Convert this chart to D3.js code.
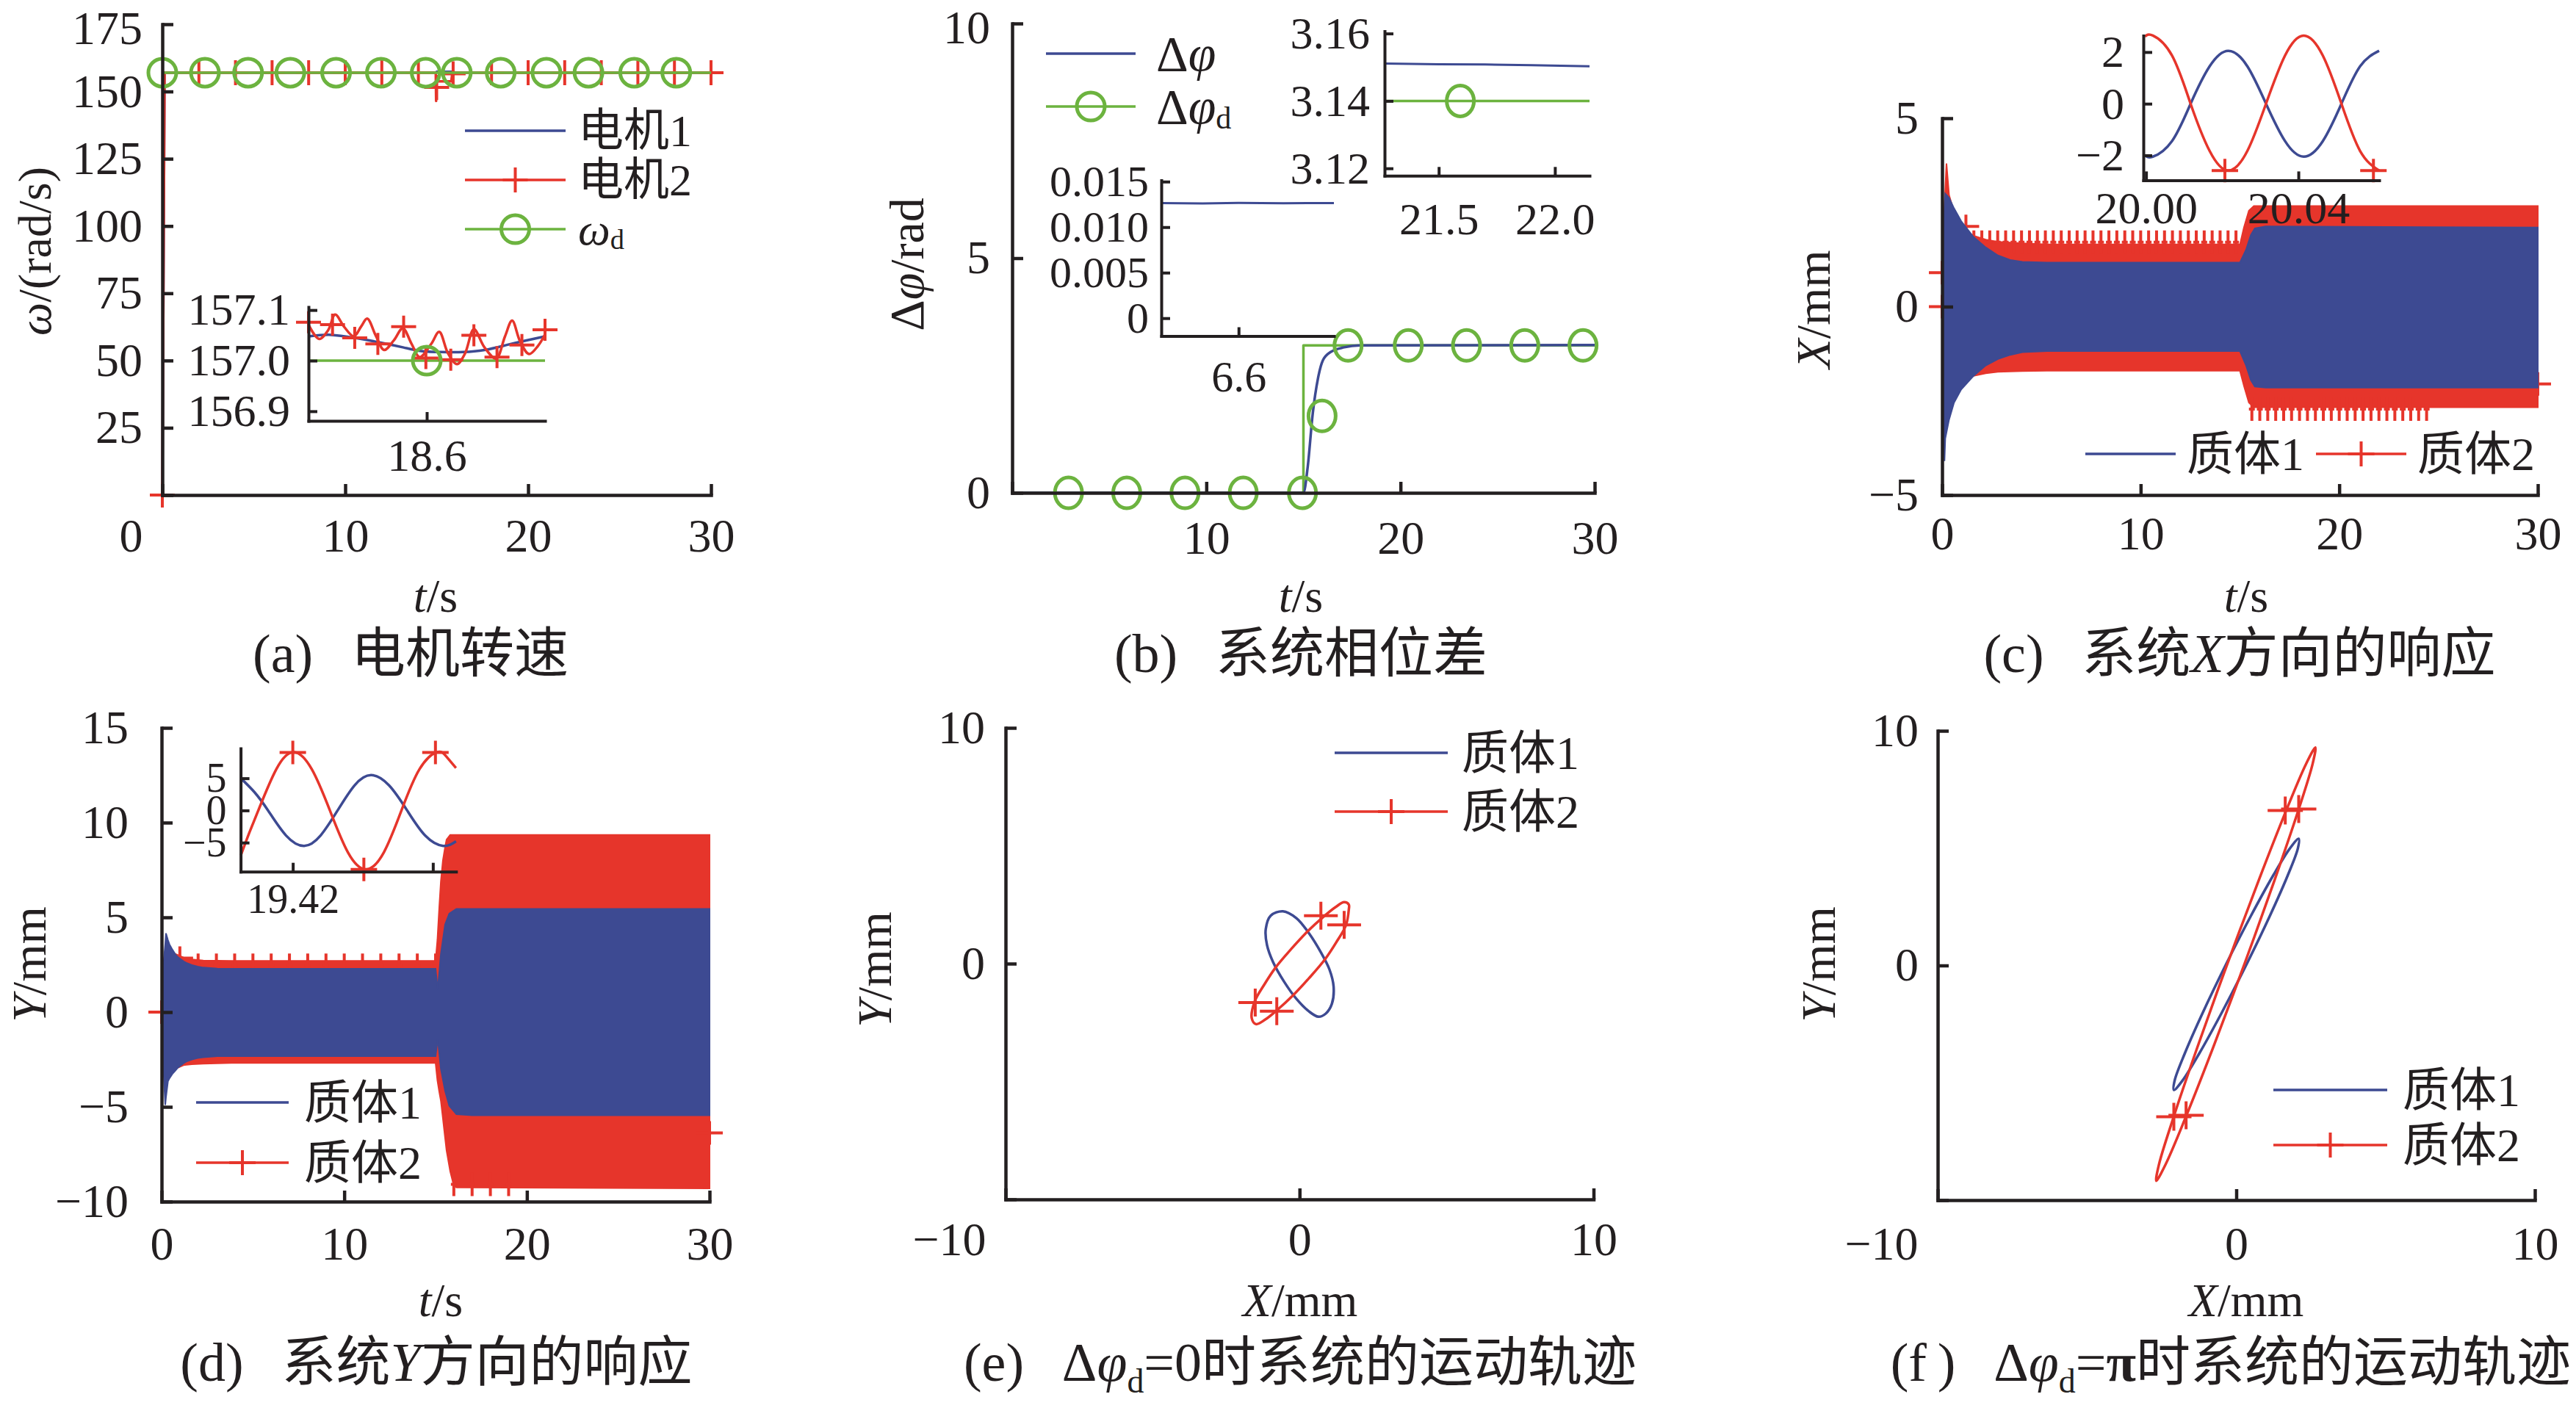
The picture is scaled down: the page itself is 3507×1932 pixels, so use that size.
<!DOCTYPE html>
<html>
<head>
<meta charset="utf-8">
<script src="https://cdn.jsdelivr.net/npm/d3@7"></script>
<style>
body { margin: 0; background: #fff; }
text { font-family: "Liberation Serif", "Noto Sans CJK SC", serif; fill: #231f20; }
</style>
</head>
<body>
<script>
// ---- (a) motor speed, rad/s ----
var aMotor1 = [[0,0],[0.12,157],[14.95,157],[15.0,157.35],[15.9,157.3],[16.0,157],[30,157]];
var aMotor2 = [[0,0],[0.12,157],[14.95,157],[14.97,146.5],[15.0,153.8],[15.8,153.8],[15.85,156.6],[16.0,157],[30,157]];
var aMotor2Marks = [[0,0],[2,157],[4,157],[6,157],[8,157],[10,157],[12,157],[14,157],[15.0,151.5],[15.9,156.6],[18,157],[20,157],[22,157],[24,157],[26,157],[28,157],[30,157]];
var aTarget = [[0,157],[30,157]];
var aTargetMarkT = [0,2.33,4.69,7.0,9.5,11.95,14.4,16.1,18.5,21.0,23.3,25.8,28.1];
// inset of (a)
var aInMotor1 = [[18.467,157.048],[18.492,157.051],[18.519,157.045],[18.547,157.036],[18.574,157.026],[18.594,157.019],[18.616,157.017],[18.641,157.017],[18.665,157.021],[18.690,157.031],[18.712,157.040],[18.733,157.048]];
var aInMotor2 = [[18.467,157.071],[18.479,157.043],[18.489,157.060],[18.497,157.091],[18.507,157.067],[18.518,157.048],[18.526,157.067],[18.533,157.083],[18.543,157.048],[18.552,157.021],[18.563,157.040],[18.573,157.064],[18.583,157.033],[18.592,157.007],[18.605,157.033],[18.614,157.057],[18.624,157.014],[18.634,156.993],[18.643,157.014],[18.653,157.062],[18.665,157.026],[18.678,157.004],[18.688,157.048],[18.696,157.079],[18.705,157.038],[18.715,157.013],[18.725,157.029],[18.733,157.052]];
var aInMotor2Marks = [[18.467,157.076],[18.494,157.071],[18.519,157.045],[18.545,157.033],[18.574,157.067],[18.599,157.005],[18.627,157.002],[18.653,157.050],[18.679,157.007],[18.707,157.031],[18.733,157.061]];
var aInTarget = [[18.467,157.0],[18.733,157.0]];
var aInTargetMark = [[18.6,157.0]];

// ---- (b) phase difference, rad ----
var bDphi = [[0,0],[15,0],[15.22,0.55],[15.48,1.69],[15.75,2.44],[16,2.82],[16.4,3.0],[17.1,3.1],[17.9,3.14],[30,3.15]];
var bDphiD = [[0,0],[15,0],[15,3.1416],[30,3.1416]];
var bDphiDMarks = [[2.9,0],[5.9,0],[8.9,0],[11.9,0],[14.95,0],[15.96,1.64],[17.3,3.14],[20.4,3.14],[23.4,3.14],[26.4,3.14],[29.4,3.14]];
var bIn1Dphi = [[6.514,0.01264],[6.56,0.01261],[6.6,0.01266],[6.65,0.01262],[6.706,0.01265]];
var bIn2Dphi = [[21.267,3.1511],[21.5,3.1509],[21.7,3.1508],[21.9,3.1506],[22.149,3.1503]];
var bIn2DphiD = [[21.267,3.14],[22.149,3.14]];
var bIn2Mark = [[21.593,3.14]];

// ---- (c) X response, mm (envelopes of the dense oscillation) ----
var cM1T  = [0,0.05,0.12,0.16,0.35,0.6,0.96,1.58,2.2,2.81,3.43,4.04,5.28,15.0,15.3,15.55,15.75,16.3,30];
var cM1Up = [0,1.5,2.6,3.0,2.89,2.61,2.27,1.85,1.57,1.36,1.24,1.19,1.17,1.17,1.5,1.9,2.08,2.13,2.10];
var cM1Lo = [0,-2.0,-4.1,-3.5,-3.0,-2.55,-2.2,-1.84,-1.56,-1.39,-1.28,-1.21,-1.18,-1.18,-1.55,-1.95,-2.12,-2.15,-2.15];
var cM2T  = [0,0.08,0.22,0.35,0.47,0.59,0.72,0.96,1.09,1.58,2.2,2.81,4.04,5.28,15.0,15.2,15.45,15.7,30];
var cM2Up = [0,2.2,3.8,2.96,2.75,2.55,2.4,2.13,2.05,1.88,1.78,1.72,1.68,1.65,1.65,2.1,2.55,2.67,2.67];
var cM2Lo = [0,-2.5,-3.06,-2.7,-2.33,-2.25,-2.19,-2.05,-1.98,-1.84,-1.77,-1.73,-1.71,-1.70,-1.70,-2.1,-2.55,-2.67,-2.67];
var cMarkTopT = [1.6,2.0,2.4,2.8,3.2,3.6,4.0,4.4,4.8,5.2,5.6,6.0,6.4,6.8,7.2,7.6,8.0,8.4,8.8,9.2,9.6,10.0,10.4,10.8,11.2,11.6,12.0,12.4,12.8,13.2,13.6,14.0,14.4,14.8];
var cMarkTopV = 1.71;
var cMarkBotT = [15.6,16.0,16.4,16.8,17.2,17.6,18.0,18.4,18.8,19.2,19.6,20.0,20.4,20.8,21.2,21.6,22.0,22.4,22.8,23.2,23.6,24.0,24.4];
var cMarkBotV = -2.72;
var cMarkOther = [[0,0],[0,0.9],[1.2,2.13],[30,-2.05]];
var cInT  = [19.9997,20.0018,20.0068,20.0117,20.0167,20.0216,20.0266,20.0315,20.0365,20.0414,20.0464,20.0513,20.0562,20.0612];
var cInM1 = [-2.00,-2.05,-1.45,0,1.45,2.05,1.45,0,-1.45,-2.05,-1.45,0,1.45,2.05];
var cInM2 = [2.60,2.64,1.87,0,-1.83,-2.59,-1.83,0,1.87,2.64,1.87,0,-1.83,-2.59];
var cInM2Marks = [[20.0207,-2.59],[20.0597,-2.59]];

// ---- (d) Y response, mm ----
var dM1T  = [0,0.1,0.2,0.24,0.35,0.43,0.59,0.74,0.89,1.2,1.35,1.66,1.97,2.28,3.05,3.82,15.0,15.12,15.29,15.52,15.75,16.14,17.0,30];
var dM1Up = [0,2.5,3.6,4.16,3.8,3.58,3.3,3.07,2.9,2.68,2.6,2.48,2.4,2.35,2.3,2.29,2.29,1.2,3.07,4.62,5.2,5.45,5.45,5.45];
var dM1Lo = [0,-3.0,-4.9,-4.5,-3.64,-3.5,-3.26,-3.1,-2.93,-2.7,-2.61,-2.5,-2.42,-2.38,-2.33,-2.33,-2.33,-1.4,-3.0,-4.16,-4.94,-5.39,-5.45,-5.45];
var dM2T  = [0,0.1,0.27,0.74,1.2,1.66,2.28,3.82,15.0,15.1,15.2,15.29,15.4,15.52,15.6,15.8,15.99,16.14,30];
var dM2Up = [0,2.6,3.58,3.07,2.88,2.78,2.72,2.70,2.70,3.8,5.5,6.9,8.0,8.7,9.1,9.35,9.35,9.35,9.35];
var dM2Lo = [0,-2.8,-3.4,-3.0,-2.8,-2.75,-2.72,-2.68,-2.68,-3.6,-4.2,-4.68,-5.6,-6.62,-7.3,-8.4,-9.13,-9.25,-9.3];
var dMarkTopT = [2,3,4,5,6,7,8,9,10,11,12,13,14,15];
var dMarkTopV = 2.47;
var dMarkBotT = [16,17,18,19];
var dMarkBotV = -9.09;
var dMarkOther = [[0,0],[1,2.85],[30,-6.38]];
var dInM1 = [[19.40514,5.0],[19.40895,2.9],[19.41293,0],[19.41807,-3.9],[19.42323,-5.51],[19.42792,-3.9],[19.43279,0],[19.43763,3.9],[19.44235,5.5],[19.44748,3.9],[19.45264,0],[19.45778,-3.9],[19.46294,-5.51],[19.46660,-4.8]];
var dInM2 = [[19.40514,-7.0],[19.40763,-3.4],[19.41015,0],[19.41528,6.4],[19.42029,9.07],[19.42543,6.4],[19.43059,0],[19.43572,-6.5],[19.44088,-9.16],[19.44602,-6.5],[19.45103,0],[19.45616,6.4],[19.46117,9.07],[19.46382,8.4],[19.46660,6.6]];
var dInM2Marks = [[19.42,9.0],[19.44029,-9.16],[19.46073,9.0]];

// ---- (e) orbit, dphi_d = 0 ----
var eM1 = [[-0.567,2.222],[-0.108,1.931],[0.308,1.308],[0.725,0.478],[1.017,-0.249],[1.158,-0.976],[1.1,-1.703],[0.892,-2.118],[0.642,-2.253],[0.308,-2.015],[-0.108,-1.495],[-0.525,-0.768],[-0.9,0.062],[-1.108,0.789],[-1.15,1.464],[-0.983,2.035]];
var eM2 = [[1.517,2.606],[1.675,2.503],[1.675,2.295],[1.575,1.620],[1.242,0.893],[0.867,0.187],[0.325,-0.613],[-0.217,-1.340],[-0.758,-1.963],[-1.175,-2.378],[-1.483,-2.565],[-1.625,-2.326],[-1.525,-1.599],[-1.192,-0.872],[-0.817,-0.166],[-0.275,0.633],[0.267,1.360],[0.808,1.983],[1.225,2.399]];
var eM2Marks = [[0.725,2.035],[1.517,1.641],[-1.508,-1.651],[-0.775,-2.015]];

// ---- (f) orbit, dphi_d = pi ----
var fM1 = [[2.091,5.402],[2.064,4.996],[1.722,3.834],[1.119,2.097],[0.344,0.047],[-0.483,-2.003],[-1.235,-3.740],[-1.800,-4.901],[-2.091,-5.308],[-2.064,-4.901],[-1.722,-3.740],[-1.119,-2.003],[-0.344,0.047],[0.483,2.097],[1.235,3.834],[1.800,4.996]];
var fM2 = [[2.649,9.288],[2.556,8.586],[2.071,6.583],[1.269,3.590],[0.271,0.054],[-0.772,-3.483],[-1.698,-6.476],[-2.369,-8.479],[-2.681,-9.181],[-2.589,-8.479],[-2.103,-6.476],[-1.302,-3.483],[-0.303,0.054],[0.740,3.590],[1.665,6.583],[2.336,8.586]];
var fM2Marks = [[1.640,6.607],[2.091,6.670],[-2.091,-6.449],[-1.681,-6.385]];

var BLUE = '#3d4a92', RED = '#e6352b', GREEN = '#6cb33f', INK = '#231f20';

var svg = d3.select('body').append('svg').attr('width', 3507).attr('height', 1932);
svg.append('rect').attr('width', 3507).attr('height', 1932).attr('fill', '#fff');

function fmt(d) { return d < 0 ? '\u2212' + Math.abs(d) : String(d); }

function axes(g, x, y, o) {
    var sw = o.sw || 4.5, tk = o.tk || 15;
    var gx = g.append('g').attr('transform', 'translate(0,' + y.range()[0] + ')')
        .call(d3.axisBottom(x).tickValues(o.xt).tickFormat(o.xf || fmt)
            .tickSizeInner(-tk).tickSizeOuter(0).tickPadding(o.xp));
    var gy = g.append('g').attr('transform', 'translate(' + x.range()[0] + ',0)')
        .call(d3.axisLeft(y).tickValues(o.yt).tickFormat(o.yf || fmt)
            .tickSizeInner(-tk).tickSizeOuter(0).tickPadding(o.yp));
    [gx, gy].forEach(function(a) {
        a.select('.domain').attr('stroke', INK).attr('stroke-width', sw).attr('stroke-linecap', 'square');
        a.selectAll('.tick line').attr('stroke', INK).attr('stroke-width', sw);
        a.selectAll('.tick text').attr('fill', INK).style('font-size', (o.fs || 64) + 'px');
    });
    // keep the topmost labels inside the page
    gy.selectAll('.tick text').filter(function(d) { return y(d) < 45; }).attr('dy', '0.42em');
    if (o.shift !== undefined) {
        gx.selectAll('.tick').filter(function(d) { return d === o.shift; })
            .select('text').attr('text-anchor', 'end').attr('x', -27);
    }
}

function line(g, x, y, pts, color, w, curve) {
    g.append('path').datum(pts)
        .attr('fill', 'none').attr('stroke', color).attr('stroke-width', w || 3.5)
        .attr('stroke-linejoin', 'round')
        .attr('d', d3.line().x(function(d) { return x(d[0]); }).y(function(d) { return y(d[1]); })
            .curve(curve || d3.curveLinear));
}

function plusAt(g, px, py, color, hw, hh) {
    g.append('path')
        .attr('d', 'M' + (px - hw) + ',' + py + 'H' + (px + hw) + 'M' + px + ',' + (py - hh) + 'V' + (py + hh))
        .attr('stroke', color).attr('stroke-width', 4).attr('fill', 'none');
}
function plus(g, x, y, pts, color, hw, hh) {
    pts.forEach(function(d) { plusAt(g, x(d[0]), y(d[1]), color, hw, hh); });
}
function circAt(g, px, py, rx, ry) {
    g.append('ellipse').attr('cx', px).attr('cy', py).attr('rx', rx).attr('ry', ry)
        .attr('fill', 'none').attr('stroke', GREEN).attr('stroke-width', 5);
}

function band(g, x, y, T, up, lo, color) {
    var rows = T.map(function(t, i) { return [t, up[i], lo[i]]; });
    g.append('path').datum(rows)
        .attr('fill', color).attr('stroke', color).attr('stroke-width', 2)
        .attr('d', d3.area().x(function(d) { return x(d[0]); })
            .y0(function(d) { return y(d[2]); }).y1(function(d) { return y(d[1]); }));
}

// parts: [text, flags]  flags: i = italic, b = bold, s = subscript
function rich(g, px, py, parts, size, anchor, rot) {
    var t = g.append('text').style('font-size', size + 'px').attr('text-anchor', anchor || 'start');
    if (rot) t.attr('transform', 'translate(' + px + ',' + py + ') rotate(-90)').attr('dominant-baseline', 'central');
    else t.attr('x', px).attr('y', py);
    var sub = false;
    parts.forEach(function(p) {
        var f = p[1] || '';
        var s = t.append('tspan').text(p[0]);
        if (f.indexOf('i') >= 0) s.style('font-style', 'italic');
        if (f.indexOf('b') >= 0) s.style('font-weight', 'bold');
        if (f.indexOf('s') >= 0) { s.style('font-size', (size * 0.62) + 'px').attr('dy', size * 0.22); sub = true; }
        else if (sub) { s.attr('dy', -size * 0.22); sub = false; }
    });
    return t;
}

function legendRow(g, x0, x1, py, color, mark, parts, tx, size, hw, hh) {
    g.append('line').attr('x1', x0).attr('x2', x1).attr('y1', py).attr('y2', py)
        .attr('stroke', color).attr('stroke-width', 3.5);
    if (mark === '+') plusAt(g, (x0 + x1) / 2, py, color, hw || 17, hh || 17);
    if (mark === 'o') circAt(g, (x0 + x1) / 2, py, 19, 19);
    rich(g, tx, py, parts, size || 64).attr('dominant-baseline', 'central');
}

var g, x, y, xi, yi;
var sep = '\u2002\u2009';

// ================= (a) =================
g = svg.append('g');
x = d3.scaleLinear().domain([0, 30]).range([221, 968]);
y = d3.scaleLinear().domain([0, 175]).range([674, 33]);
line(g, x, y, aMotor1, BLUE);
line(g, x, y, aMotor2, RED);
plus(g, x, y, aMotor2Marks, RED, 17, 17);
line(g, x, y, aTarget, GREEN);
aTargetMarkT.forEach(function(t) { circAt(g, x(t), y(157), 19, 19); });
axes(g, x, y, {xt: [0, 10, 20, 30], yt: [0, 25, 50, 75, 100, 125, 150, 175],
    yf: function(d) { return d === 0 ? '' : fmt(d); }, xp: 32, yp: 27, shift: 0});
xi = d3.scaleLinear().domain([18.467, 18.733]).range([420, 742]);
yi = d3.scaleLinear().domain([156.881, 157.106]).range([573, 418]);
line(g, xi, yi, aInTarget, GREEN);
line(g, xi, yi, aInMotor1, BLUE, 3.5, d3.curveNatural);
line(g, xi, yi, aInMotor2, RED, 3.5, d3.curveCatmullRom);
plus(g, xi, yi, aInMotor2Marks, RED, 17, 15);
aInTargetMark.forEach(function(d) { circAt(g, xi(d[0]), yi(d[1]), 19, 19); });
axes(g, xi, yi, {xt: [18.6], yt: [156.9, 157.0, 157.1], xf: d3.format('.1f'), yf: d3.format('.1f'),
    xp: 24, yp: 25, tk: 12, sw: 4, fs: 62});
legendRow(g, 633, 770, 178, BLUE, null, [['电机1']], 787, 62);
legendRow(g, 633, 770, 245, RED, '+', [['电机2']], 787, 62);
legendRow(g, 633, 770, 312, GREEN, 'o', [['ω', 'i'], ['d', 's']], 787, 62);
rich(g, 593, 833, [['t', 'i'], ['/s']], 64, 'middle');
rich(g, 47, 342, [['ω', 'i'], ['/(rad/s)']], 64, 'middle', true);
rich(g, 559, 915, [['(a)' + sep + '电机转速']], 74, 'middle');

// ================= (b) =================
g = svg.append('g');
x = d3.scaleLinear().domain([0, 30]).range([1378, 2171]);
y = d3.scaleLinear().domain([0, 10]).range([671, 32]);
line(g, x, y, bDphiD, GREEN);
line(g, x, y, bDphi, BLUE, 3.5, d3.curveMonotoneX);
bDphiDMarks.forEach(function(d) { circAt(g, x(d[0]), y(d[1]), 18.5, 21); });
axes(g, x, y, {xt: [0, 10, 20, 30], yt: [0, 5, 10], xf: function(d) { return d === 0 ? '' : fmt(d); },
    xp: 38, yp: 30});
xi = d3.scaleLinear().domain([6.514, 6.706]).range([1581, 1816]);
yi = d3.scaleLinear().domain([-0.00196, 0.01515]).range([457.5, 245.4]);
line(g, xi, yi, bIn1Dphi, BLUE, 3);
axes(g, xi, yi, {xt: [6.6], yt: [0, 0.005, 0.01, 0.015], xf: d3.format('.1f'),
    yf: function(d) { return d === 0 ? '0' : d3.format('.3f')(d); }, xp: 33, yp: 17, tk: 12, sw: 4, fs: 60});
xi = d3.scaleLinear().domain([21.267, 22.149]).range([1885, 2164]);
yi = d3.scaleLinear().domain([3.1178, 3.1607]).range([239.3, 42.4]);
line(g, xi, yi, bIn2DphiD, GREEN);
line(g, xi, yi, bIn2Dphi, BLUE, 3);
bIn2Mark.forEach(function(d) { circAt(g, xi(d[0]), yi(d[1]), 18.5, 21); });
axes(g, xi, yi, {xt: [21.5, 22.0], yt: [3.12, 3.14, 3.16], xf: d3.format('.1f'), yf: d3.format('.2f'),
    xp: 36, yp: 20, tk: 12, sw: 4, fs: 62});
legendRow(g, 1424, 1546, 73, BLUE, null, [['Δ'], ['φ', 'i']], 1574, 68);
legendRow(g, 1424, 1546, 145, GREEN, 'o', [['Δ'], ['φ', 'i'], ['d', 's']], 1574, 68);
rich(g, 1771, 833, [['t', 'i'], ['/s']], 64, 'middle');
rich(g, 1234, 360, [['Δ'], ['φ', 'i'], ['/rad']], 66, 'middle', true);
rich(g, 1771, 915, [['(b)' + sep + '系统相位差']], 74, 'middle');

// ================= (c) =================
g = svg.append('g');
x = d3.scaleLinear().domain([0, 30]).range([2644, 3455]);
y = d3.scaleLinear().domain([-5, 5]).range([674, 161]);
band(g, x, y, cM2T, cM2Up, cM2Lo, RED);
cMarkTopT.forEach(function(t) { plusAt(g, x(t), y(cMarkTopV), RED, 4, 16); });
cMarkBotT.forEach(function(t) { plusAt(g, x(t), y(cMarkBotV), RED, 4, 16); });
plus(g, x, y, cMarkOther, RED, 18, 16);
band(g, x, y, cM1T, cM1Up, cM1Lo, BLUE);
axes(g, x, y, {xt: [0, 10, 20, 30], yt: [-5, 0, 5], xp: 29, yp: 32});
xi = d3.scaleLinear().domain([19.9993, 20.0612]).range([2918, 3239]);
yi = d3.scaleLinear().domain([-2.964, 2.637]).range([245.4, 48.5]);
line(g, xi, yi, cInT.map(function(t, i) { return [t, cInM1[i]]; }), BLUE, 3.5, d3.curveNatural);
line(g, xi, yi, cInT.map(function(t, i) { return [t, cInM2[i]]; }), RED, 3.5, d3.curveNatural);
plus(g, xi, yi, cInM2Marks, RED, 18, 16);
axes(g, xi, yi, {xt: [20.00, 20.04], yt: [-2, 0, 2], xf: d3.format('.2f'), xp: 15, yp: 26, tk: 12, sw: 4, fs: 62});
legendRow(g, 2839, 2962, 618, BLUE, null, [['质体1']], 2977, 64);
legendRow(g, 3153, 3276, 618, RED, '+', [['质体2']], 3291, 64, 18, 17);
rich(g, 3058, 833, [['t', 'i'], ['/s']], 64, 'middle');
rich(g, 2468, 421, [['X', 'i'], ['/mm']], 66, 'middle', true);
rich(g, 3049, 915, [['(c)' + sep + '系统'], ['X', 'i'], ['方向的响应']], 74, 'middle');

// ================= (d) =================
g = svg.append('g');
x = d3.scaleLinear().domain([0, 30]).range([220, 966]);
y = d3.scaleLinear().domain([-10, 15]).range([1636, 991]);
band(g, x, y, dM2T, dM2Up, dM2Lo, RED);
dMarkTopT.forEach(function(t) { plusAt(g, x(t), y(dMarkTopV), RED, 4, 16); });
dMarkBotT.forEach(function(t) { plusAt(g, x(t), y(dMarkBotV), RED, 4, 16); });
plus(g, x, y, dMarkOther, RED, 18, 16);
band(g, x, y, dM1T, dM1Up, dM1Lo, BLUE);
axes(g, x, y, {xt: [0, 10, 20, 30], yt: [-10, -5, 0, 5, 10, 15], xp: 34, yp: 45});
xi = d3.scaleLinear().domain([19.4051, 19.4666]).range([327.6, 620.8]);
yi = d3.scaleLinear().domain([-9.51, 9.65]).range([1186.7, 1018.9]);
line(g, xi, yi, dInM1, BLUE, 3.5, d3.curveNatural);
line(g, xi, yi, dInM2, RED, 3.5, d3.curveNatural);
plus(g, xi, yi, dInM2Marks, RED, 18, 16);
axes(g, xi, yi, {xt: [19.42, 19.46], yt: [-5, 0, 5], xf: function(d) { return d === 19.42 ? '19.42' : ''; },
    xp: 17, yp: 19, tk: 12, sw: 4, fs: 56});
legendRow(g, 267, 393, 1501, BLUE, null, [['质体1']], 414, 64);
legendRow(g, 267, 393, 1583, RED, '+', [['质体2']], 414, 64, 18, 17);
rich(g, 600, 1792, [['t', 'i'], ['/s']], 64, 'middle');
rich(g, 39, 1313, [['Y', 'i'], ['/mm']], 66, 'middle', true);
rich(g, 594, 1880, [['(d)' + sep + '系统'], ['Y', 'i'], ['方向的响应']], 74, 'middle');

// ================= (e) =================
g = svg.append('g');
x = d3.scaleLinear().domain([-10, 10]).range([1369, 2169.5]);
y = d3.scaleLinear().domain([-10, 10]).range([1633, 991]);
line(g, x, y, eM1, BLUE, 3.5, d3.curveCatmullRomClosed);
line(g, x, y, eM2, RED, 3.5, d3.curveCatmullRomClosed);
plus(g, x, y, eM2Marks, RED, 23, 19);
axes(g, x, y, {xt: [-10, 0, 10], yt: [-10, 0, 10], yf: function(d) { return d === -10 ? '' : fmt(d); },
    xp: 31, yp: 28, shift: -10});
legendRow(g, 1817, 1971, 1025, BLUE, null, [['质体1']], 1990, 64);
legendRow(g, 1817, 1971, 1105, RED, '+', [['质体2']], 1990, 64, 18, 17);
rich(g, 1770, 1792, [['X', 'i'], ['/mm']], 64, 'middle');
rich(g, 1190, 1320, [['Y', 'i'], ['/mm']], 66, 'middle', true);
rich(g, 1770, 1880, [['(e)' + sep + 'Δ'], ['φ', 'i'], ['d', 's'], ['=0时系统的运动轨迹']], 74, 'middle');

// ================= (f) =================
g = svg.append('g');
x = d3.scaleLinear().domain([-10, 10]).range([2638, 3451]);
y = d3.scaleLinear().domain([-10, 10]).range([1634, 995]);
line(g, x, y, fM1, BLUE, 3.5, d3.curveCatmullRomClosed);
line(g, x, y, fM2, RED, 3.5, d3.curveCatmullRomClosed);
plus(g, x, y, fM2Marks, RED, 24, 19);
axes(g, x, y, {xt: [-10, 0, 10], yt: [-10, 0, 10], yf: function(d) { return d === -10 ? '' : fmt(d); },
    xp: 36, yp: 26, shift: -10});
legendRow(g, 3095, 3250, 1484, BLUE, null, [['质体1']], 3271, 64);
legendRow(g, 3095, 3250, 1559, RED, '+', [['质体2']], 3271, 64, 18, 17);
rich(g, 3058, 1792, [['X', 'i'], ['/mm']], 64, 'middle');
rich(g, 2475, 1313, [['Y', 'i'], ['/mm']], 66, 'middle', true);
rich(g, 3500, 1880, [['(f\u2009)' + sep + 'Δ'], ['φ', 'i'], ['d', 's'], ['='], ['π', 'b'], ['时系统的运动轨迹']], 74, 'end');
</script>
</body>
</html>
